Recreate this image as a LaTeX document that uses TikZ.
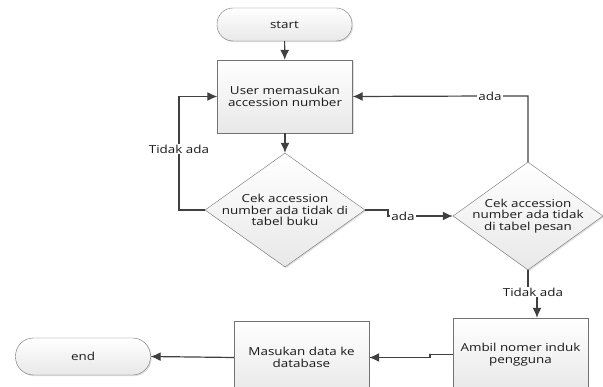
\documentclass[tikz,border=0pt]{standalone}
\usepackage{fontspec}
\setmainfont{Open Sans}[FakeStretch=1.22]
\usepackage{tikz}
\usetikzlibrary{shapes.geometric, arrows.meta, shadows}

\tikzset{
    flow/.style     = {draw=black!55, top color=white, bottom color=black!9,
                       drop shadow={shadow xshift=1.2pt, shadow yshift=-1.2pt, opacity=0.25},
                       align=center, text=black!90, inner sep=0pt},
    terminal/.style = {flow, rounded corners=16pt, minimum width=135pt, minimum height=33pt},
    process/.style  = {flow, minimum width=135pt, minimum height=73pt},
    decision/.style = {flow, diamond, minimum width=160pt, minimum height=114pt},
    inside/.style   = {align=center, text=black!90},
    line/.style     = {draw=black!75, line width=1.2pt},
    tag/.style      = {fill=white, inner sep=1pt, text=black!90}
}

\begin{document}
\begin{tikzpicture}[x=1pt, y=-1pt, >={Latex[length=10pt, width=9pt]},
                    font=\fontsize{11}{11.5}\selectfont]
%        \draw [lightgray, thin, step = 20] (0,0) grid (603,387);
        \clip (0,0) rectangle (603,387);

        \node [terminal] (start) at (284.5, 24.5) {start};
        \node [process]  (input) at (285, 96.5) {User memasukan\\accession number};
        \node [decision, label={[inside]center:Cek accession\\number ada tidak di\\tabel buku}]
                         (cek1)  at (285, 210) {};
        \node [decision, minimum width=150pt, minimum height=108pt,
               label={[inside]center:Cek accession\\number ada tidak\\di tabel pesan}]
                         (cek2)  at (528, 216) {};
        \node [process]  (ambil) at (520.5, 354.5) {Ambil nomer induk\\pengguna};
        \node [process]  (simpan) at (301.5, 357.5) {Masukan data ke\\database};
        \node [terminal, minimum height=37pt, rounded corners=18pt]
                         (end)   at (83, 356.5) {end};
%
        \coordinate (tidak1) at (179, 149);
        \coordinate (ada1)   at (388, 216);
        \coordinate (ada2)   at (490, 96);
        \coordinate (tidak2) at (533, 292);
        \coordinate (jog)    at (430, 354);

        \draw [line, ->] (start) -- (input);
        \draw [line, ->] (input) -- (cek1);

        \draw [line, ->] (cek1.west) -| (tidak1) |- (input.west);
        \node [tag] at (tidak1) {Tidak ada};

        \draw [line, ->] (cek1.east) -| (ada1) -- (cek2.west);
        \node [tag] at (403, 216) {ada};

        \draw [line, ->] (cek2.north) |- (ada2) -- (input.east);
        \node [tag] at (ada2) {ada};

        \draw [line, ->] (cek2.south) |- (tidak2) -| ([xshift=16.5pt]ambil.north);
        \node [tag] at (tidak2) {Tidak ada};

        \draw [line, ->] (ambil.west) -| (jog) |- (simpan.east);
        \draw [line, ->] (simpan.west) -- (end.east);
    \end{tikzpicture}
\end{document}
